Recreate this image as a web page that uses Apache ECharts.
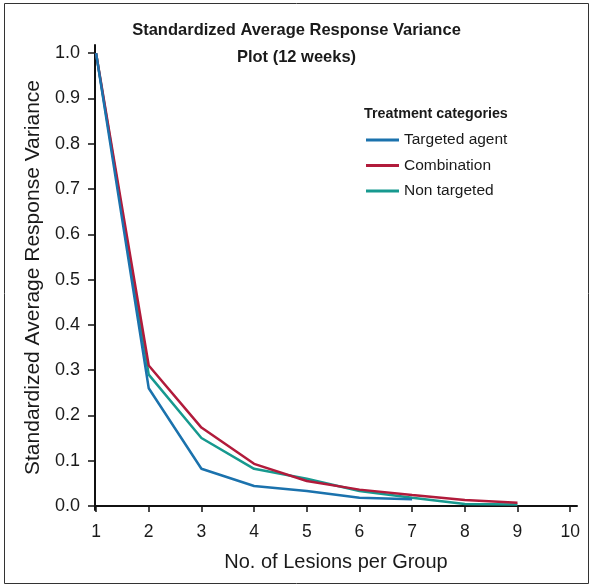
<!DOCTYPE html>
<html>
<head>
<meta charset="utf-8">
<script src="https://cdn.jsdelivr.net/npm/echarts@6/dist/echarts.min.js"></script>
<style>
  html, body { margin: 0; padding: 0; background: #fff; }
  #chart { width: 593px; height: 587px; }
</style>
</head>
<body>
<div id="chart"></div>
<script>
// Number of lesions per group
const lesions = [1, 2, 3, 4, 5, 6, 7, 8, 9];
// Standardized average response variance per treatment category
const targetedAgent = [1.0, 0.26, 0.082, 0.044, 0.033, 0.018, 0.015];
const combination = [1.0, 0.31, 0.173, 0.093, 0.055, 0.036, 0.024, 0.013, 0.007];
const nonTargeted = [1.0, 0.29, 0.15, 0.082, 0.06, 0.033, 0.018, 0.004, 0.003];
// Tick labels
const yTicks = [0, 0.1, 0.2, 0.3, 0.4, 0.5, 0.6, 0.7, 0.8, 0.9, 1.0];
const xTicks = [1, 2, 3, 4, 5, 6, 7, 8, 9, 10];

const seriesNames = ['Targeted agent', 'Combination', 'Non targeted'];
const seriesColors = ['#1b72ad', '#b11b3b', '#17998f'];
const seriesValues = [targetedAgent, combination, nonTargeted];

const font = '"Liberation Sans", Arial, sans-serif';

const chart = echarts.init(document.getElementById('chart'), null, { renderer: 'canvas' });

chart.setOption({
  animation: false,
  backgroundColor: '#fff',
  textStyle: { fontFamily: font },
  title: [
    {
      text: 'Standardized Average Response Variance\nPlot (12 weeks)',
      left: 'center',
      top: 12,
      textStyle: { fontFamily: font, fontSize: 16.5, fontWeight: 'bold', color: '#1a1a1a', lineHeight: 27 }
    },
    {
      text: 'Treatment categories',
      left: 359,
      top: 102,
      textStyle: { fontFamily: font, fontSize: 14.3, fontWeight: 'bold', color: '#1a1a1a' }
    }
  ],
  legend: {
    orient: 'vertical',
    left: 361,
    top: 127,
    itemWidth: 33,
    itemHeight: 3,
    itemGap: 9.5,
    icon: 'rect',
    textStyle: { fontFamily: font, fontSize: 15.5, color: '#1a1a1a' },
    data: seriesNames
  },
  grid: { left: 95, right: 16, top: 45, bottom: 77, containLabel: false },
  xAxis: {
    type: 'value',
    min: 0.98,
    max: 10.13,
    name: 'No. of Lesions per Group',
    nameLocation: 'middle',
    nameGap: 42,
    nameTextStyle: { fontFamily: font, fontSize: 20, color: '#1a1a1a' },
    axisLine: { show: true, lineStyle: { color: '#111', width: 2 } },
    axisTick: { show: true, length: 6, lineStyle: { color: '#111', width: 1.5 }, customValues: xTicks },
    axisLabel: { fontFamily: font, fontSize: 17.5, color: '#1a1a1a', margin: 13, customValues: xTicks },
    splitLine: { show: false }
  },
  yAxis: {
    type: 'value',
    min: -0.009,
    max: 1.018,
    name: 'Standardized Average Response Variance',
    nameLocation: 'middle',
    nameGap: 51,
    nameTextStyle: { fontFamily: font, fontSize: 21, color: '#1a1a1a' },
    axisLine: { show: true, lineStyle: { color: '#111', width: 2 } },
    axisTick: { show: true, length: 7, lineStyle: { color: '#111', width: 1.5 }, customValues: yTicks },
    axisLabel: {
      fontFamily: font, fontSize: 18, color: '#1a1a1a', margin: 15,
      customValues: yTicks,
      formatter: v => v.toFixed(1)
    },
    splitLine: { show: false }
  },
  series: seriesNames.map((name, i) => ({
    name,
    type: 'line',
    data: seriesValues[i].map((v, j) => [lesions[j], v]),
    showSymbol: false,
    symbol: 'none',
    lineStyle: { color: seriesColors[i], width: 2.5 },
    itemStyle: { color: seriesColors[i] },
    z: 3 - i
  })),
  graphic: [
    {
      type: 'rect',
      shape: { x: 4.5, y: 3.5, width: 584, height: 580 },
      style: { fill: 'none', stroke: '#333', lineWidth: 1 },
      silent: true
    }
  ]
});
</script>
</body>
</html>
